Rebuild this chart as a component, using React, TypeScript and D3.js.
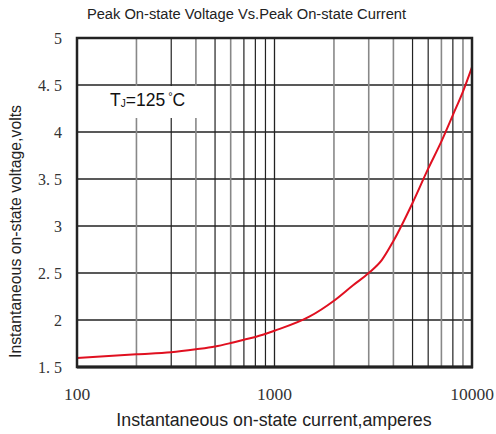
import React from "react";
import * as d3 from "d3";

const currents = [100, 200, 300, 400, 500, 600, 700, 800, 1000, 1500, 2000, 2500, 3000, 3500, 4000, 5000, 6000, 7000, 8000, 9000, 10000];
const voltages = [1.596, 1.635, 1.656, 1.688, 1.718, 1.755, 1.79, 1.82, 1.886, 2.035, 2.205, 2.37, 2.5, 2.64, 2.84, 3.245, 3.61, 3.9, 4.18, 4.43, 4.69];

const yTicks = [1.5, 2, 2.5, 3, 3.5, 4, 4.5, 5];
const yTickLabels = ["1. 5", "2", "2. 5", "3", "3. 5", "4", "4. 5", "5"];
const xTicks = [100, 1000, 10000];
const xTickLabels = ["100", "1000", "10000"];
const minorX = [200, 300, 400, 500, 600, 700, 800, 900, 2000, 3000, 4000, 5000, 6000, 7000, 8000, 9000];
const minorDark = [false, true, false, true, false, true, true, true, false, false, false, true, true, false, true, false];

const W = 496, H = 434;
const L = 77, R = 472, T = 38, B = 367;

export default function App() {
  const x = d3.scaleLog().domain([100, 10000]).range([L, R]);
  const y = d3.scaleLinear().domain([1.5, 5]).range([B, T]);
  const line = d3.line<number>()
    .x((_, i) => x(currents[i]))
    .y((d) => y(d))
    .curve(d3.curveMonotoneX);
  const sans = "'Liberation Sans', Arial, sans-serif";
  const serif = "'Liberation Serif', 'DejaVu Serif', serif";
  return (
    <div style={{ position: "absolute", left: 0, top: 0 }}>
      <svg width={W} height={H} style={{ display: "block", background: "#fff" }}>
        <text x={246.5} y={18.5} textAnchor="middle" fontFamily={sans} fontSize={14.7} fill="#222">
          Peak On-state Voltage Vs.Peak On-state Current
        </text>
        {/* horizontal grid */}
        {yTicks.slice(1, -1).map((t) => (
          <line key={"h" + t} x1={L} x2={R} y1={y(t)} y2={y(t)} stroke="#222" strokeWidth={1.3} />
        ))}
        {/* vertical grid */}
        {minorX.map((v, i) => (
          <line key={"v" + v} x1={x(v)} x2={x(v)} y1={T} y2={B}
            stroke={minorDark[i] ? "#222" : "#888"} strokeWidth={minorDark[i] ? 1.2 : 1.6} />
        ))}
        <line x1={x(1000)} x2={x(1000)} y1={T} y2={B} stroke="#222" strokeWidth={1.3} />
        {/* label background */}
        <rect x={104} y={86} width={102} height={32} fill="#fff" />
        <text x={110} y={106} fontFamily={sans} fontSize={17.5} fill="#111">
          T<tspan fontSize={10} dy={1}>J</tspan><tspan dy={-1}>=125</tspan><tspan fontSize={11} dx={3} dy={-6}>°</tspan><tspan dy={6}>C</tspan>
        </text>
        {/* curve */}
        <path d={line(voltages) || ""} fill="none" stroke="#e01020" strokeWidth={2} />
        {/* frame */}
        <rect x={L} y={T} width={R - L} height={B - T} fill="none" stroke="#222" strokeWidth={2.5} />
        <line x1={L} x2={R + 1} y1={B} y2={B} stroke="#222" strokeWidth={3} />
        {/* y tick labels */}
        {yTicks.map((t, i) => (
          <text key={"yl" + t} x={62} y={y(t) + 5.5} textAnchor="end" fontFamily={serif} fontSize={16} fill="#333">
            {yTickLabels[i]}
          </text>
        ))}
        {/* x tick labels */}
        {xTicks.map((t, i) => (
          <text key={"xl" + t} x={x(t)} y={400} textAnchor="middle" fontFamily={serif} fontSize={17.5} fill="#333">
            {xTickLabels[i]}
          </text>
        ))}
        <text x={274} y={426} textAnchor="middle" fontFamily={sans} fontSize={17.8} fill="#222">
          Instantaneous on-state current,amperes
        </text>
        <text transform={`translate(21,231.5) rotate(-90)`} textAnchor="middle" fontFamily={sans} fontSize={15.8} fill="#222">
          Instantaneous on-state voltage,volts
        </text>
      </svg>
    </div>
  );
}
